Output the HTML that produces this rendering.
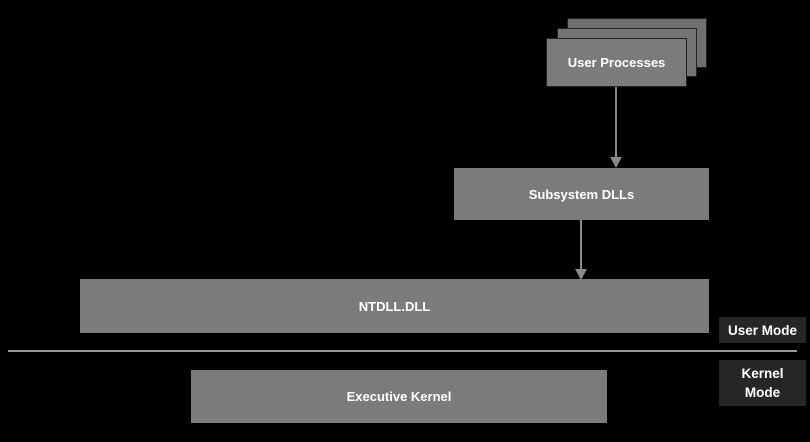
<!DOCTYPE html>
<html><head><style>
body{margin:0;width:810px;height:442px;background:#000;position:relative;overflow:hidden;font-family:"Liberation Sans",sans-serif;font-weight:bold;color:#fff}
.b{position:absolute;background:#7b7b7b;display:flex;align-items:center;justify-content:center;font-size:13px;box-sizing:border-box}
.s{border:1px solid #222}
.l{position:absolute;background:#262626;display:flex;align-items:center;justify-content:center;text-align:center;font-size:13.5px;line-height:19px}
</style></head><body>
<div class="b s" style="left:567px;top:18px;width:140px;height:50px;background:#6f6f6f"></div>
<div class="b s" style="left:557px;top:28px;width:140px;height:49px;background:#747474"></div>
<div class="b s" style="left:546px;top:38px;width:141px;height:49px">User Processes</div>
<div class="b" style="left:454px;top:168px;width:255px;height:52px">Subsystem DLLs</div>
<div class="b" style="left:80px;top:279px;width:629px;height:54px">NTDLL.DLL</div>
<div class="b" style="left:191px;top:370px;width:416px;height:53px">Executive Kernel</div>
<div style="position:absolute;left:8px;top:350px;width:789px;height:2px;background:#999"></div>
<div class="l" style="left:719px;top:317px;width:87px;height:26px">User Mode</div>
<div class="l" style="left:719px;top:360px;width:87px;height:46px">Kernel<br>Mode</div>
<svg width="810" height="442" style="position:absolute;left:0;top:0">
<line x1="616" y1="87" x2="616" y2="158" stroke="#8a8a8a" stroke-width="2"/>
<polygon points="610,157 622,157 616,168" fill="#8a8a8a"/>
<line x1="581" y1="220" x2="581" y2="270" stroke="#8a8a8a" stroke-width="2"/>
<polygon points="575,269 587,269 581,280" fill="#8a8a8a"/>
</svg>
</body></html>
